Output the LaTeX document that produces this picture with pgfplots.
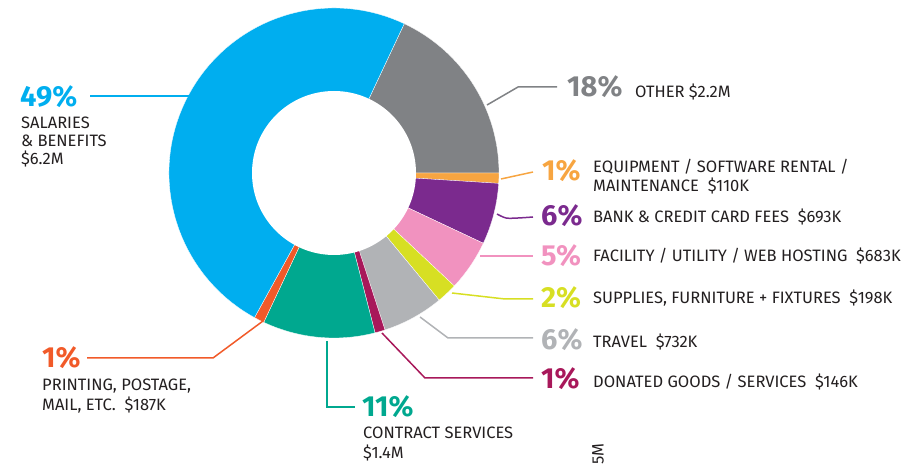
\documentclass[border=0pt]{standalone}
\usepackage{pgfplots}
\usepackage{pgfplotstable}
\usepackage{fontspec}
\pgfplotsset{compat=1.18}
\setmainfont{Fira Sans}
\newfontfamily\pctfont{Fira Sans}

\definecolor{cSal}{HTML}{00AEEF}
\definecolor{cOther}{HTML}{808285}
\definecolor{cEquip}{HTML}{F7A541}
\definecolor{cBank}{HTML}{7B2A8E}
\definecolor{cFac}{HTML}{F192BF}
\definecolor{cSupp}{HTML}{D7DF23}
\definecolor{cTravel}{HTML}{B1B3B6}
\definecolor{cDon}{HTML}{A8185A}
\definecolor{cContr}{HTML}{00A88F}
\definecolor{cPrint}{HTML}{F15A29}
\definecolor{txt}{HTML}{231F20}

% share of total spending, clockwise from the top of "other"
\pgfplotstableread{
pct col
18 cOther
1  cEquip
6  cBank
5  cFac
2  cSupp
6  cTravel
1  cDon
11 cContr
1  cPrint
49 cSal
}\slices

\newcommand{\pct}[1]{{\pctfont\fontsize{29}{29}\selectfont\bfseries #1}}
\newcommand{\lbl}[1]{{\fontsize{16.5}{18}\selectfont #1}}

\begin{document}
\begin{tikzpicture}
\begin{axis}[
  hide axis, scale only axis,
  width=922pt, height=466pt,
  xmin=0, xmax=922, ymin=0, ymax=466,
  clip=false,
]
% donut
\def\angA{64.8}
\pgfplotsforeachungrouped \i in {0,...,9}{%
  \pgfplotstablegetelem{\i}{pct}\of\slices \let\p\pgfplotsretval
  \pgfplotstablegetelem{\i}{col}\of\slices \let\c\pgfplotsretval
  \pgfmathsetmacro\angB{\angA-3.6*\p}%
  \edef\temp{\noexpand\fill[\c, draw=white, line width=0.3pt] (axis cs:334,293) -- ++(\angA:165pt)
    arc[start angle=\angA, end angle=\angB, radius=165pt] -- cycle;}%
  \temp
  \global\let\angA\angB
}
\fill[white] (axis cs:334,293) circle[radius=82pt];

% leader lines
\addplot[cSal, line width=1.5pt] coordinates {(90,370) (190,370)};
\addplot[cOther, line width=1.5pt] coordinates {(487,361) (518,379) (557,379)};
\addplot[cEquip, line width=1.5pt] coordinates {(501,287) (533,294)};
\addplot[cBank, line width=1.5pt, smooth] coordinates {(497,252) (506,248) (518,248) (533,249)};
\addplot[cFac, line width=1.5pt] coordinates {(480,210) (533,210)};
\addplot[cSupp, line width=1.5pt] coordinates {(452,173) (505,167) (533,167)};
\addplot[cTravel, line width=1.5pt] coordinates {(420,149) (448,128) (533,128)};
\addplot[cDon, line width=1.5pt] coordinates {(382,133) (425,88) (533,88)};
\addplot[cContr, line width=1.5pt] coordinates {(327,125) (327,59) (355,59)};
\addplot[cPrint, line width=1.5pt] coordinates {(263,145) (213,108) (87,108)};

% labels
\begin{scope}[every node/.style={inner sep=0pt, anchor=west, text=txt}]
\node[text=cSal] at (axis cs:20,369) {\pct{49\%}};
\node[anchor=north west, align=left, font=\fontsize{16.5}{18}\selectfont]
  at (axis cs:21,349) {SALARIES\\\& BENEFITS\\\$6.2M};

\node[text=cOther] at (axis cs:567,379) {\pct{18\%}};
\node at (axis cs:635,374) {\lbl{OTHER \$2.2M}};

\node[text=cEquip] at (axis cs:542,295) {\pct{1\%}};
\node[anchor=north west, align=left, font=\fontsize{16.5}{19}\selectfont]
  at (axis cs:593,307) {EQUIPMENT / SOFTWARE RENTAL /\\MAINTENANCE\ \ \$110K};

\node[text=cBank] at (axis cs:541,250) {\pct{6\%}};
\node at (axis cs:593,249) {\lbl{BANK \& CREDIT CARD FEES\ \ \$693K}};

\node[text=cFac] at (axis cs:541,210) {\pct{5\%}};
\node at (axis cs:593,210) {\lbl{FACILITY / UTILITY / WEB HOSTING\ \ \$683K}};

\node[text=cSupp] at (axis cs:541,168) {\pct{2\%}};
\node at (axis cs:593,168) {\lbl{SUPPLIES, FURNITURE + FIXTURES\ \ \$198K}};

\node[text=cTravel] at (axis cs:541,126) {\pct{6\%}};
\node at (axis cs:593,124) {\lbl{TRAVEL\ \ \$732K}};

\node[text=cDon] at (axis cs:541,87) {\pct{1\%}};
\node at (axis cs:593,84) {\lbl{DONATED GOODS / SERVICES\ \ \$146K}};

\node[text=cPrint] at (axis cs:42,108) {\pct{1\%}};
\node[anchor=north west, align=left, font=\fontsize{16.5}{20}\selectfont]
  at (axis cs:42,87) {PRINTING, POSTAGE,\\MAIL, ETC.\ \ \$187K};

\node[text=cContr] at (axis cs:362,59) {\pct{11\%}};
\node[anchor=north west, align=left, font=\fontsize{16.5}{20}\selectfont]
  at (axis cs:363,39) {CONTRACT SERVICES\\\$1.4M};

\node[rotate=90] at (axis cs:598,1) {\lbl{5M}};
\end{scope}
\end{axis}
\pgfresetboundingbox
\path (current axis.south west) rectangle (current axis.north east);
\end{tikzpicture}
\end{document}
